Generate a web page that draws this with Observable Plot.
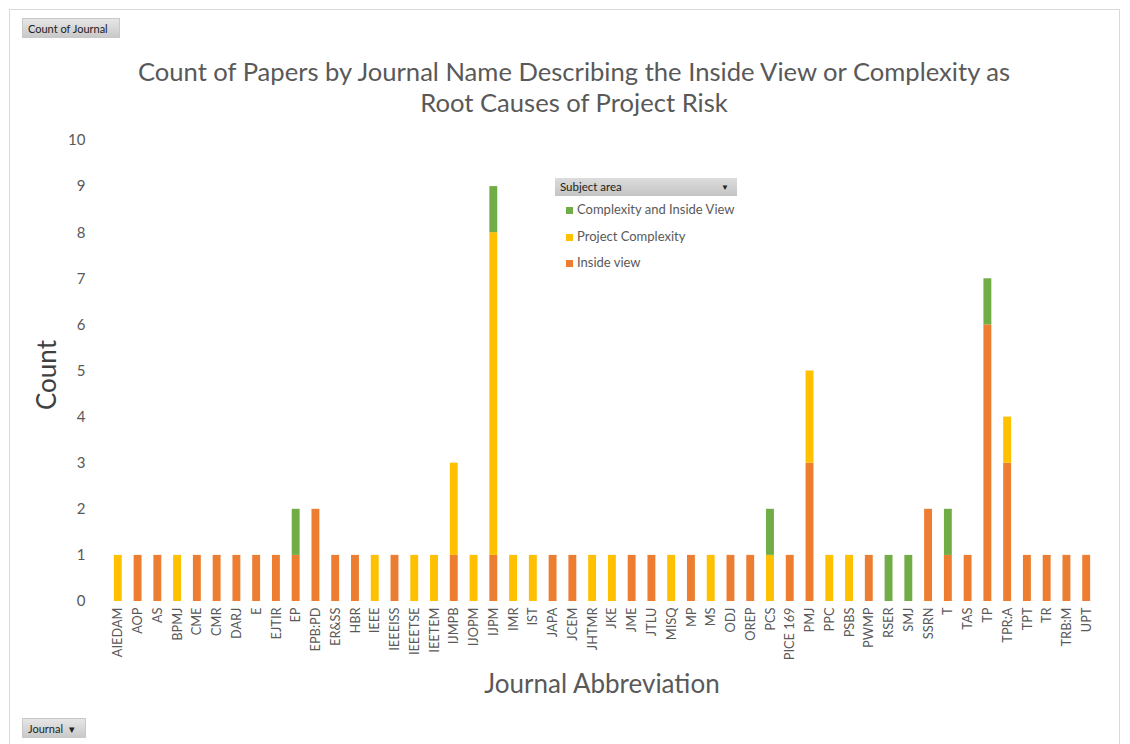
<!DOCTYPE html>
<html>
<head>
<meta charset="utf-8">
<script src="https://cdn.jsdelivr.net/npm/d3@7"></script>
<script src="https://cdn.jsdelivr.net/npm/@observablehq/plot@0.6"></script>
<style>
  html, body { margin: 0; padding: 0; background: #fff; }
  #wrap { position: relative; width: 1130px; height: 744px; overflow: hidden; font-family: Lato, "Open Sans", sans-serif; color: #595959; }
  #frame { position: absolute; left: 9px; top: 9px; width: 1111px; height: 760px; border: 1px solid #d9d9d9; box-sizing: border-box; }
  .btn { position: absolute; background: linear-gradient(#e6e6e6, #c9c9c9); border: 1px solid #c8c8c8; font-size: 11px; color: #222; padding: 0 5px; box-sizing: border-box; line-height: 19px; height: 20px; }
  #title { position: absolute; left: 0; width: 1148px; top: 56px; text-align: center; font-size: 25.6px; line-height: 31px; color: #595959; }
  #ylab { position: absolute; left: 46px; top: 375px; transform: translate(-50%, -50%) rotate(-90deg); font-size: 26px; color: #404040; white-space: nowrap; }
  #xlab { position: absolute; left: 602px; top: 683px; transform: translate(-50%, -50%); font-size: 26px; color: #595959; white-space: nowrap; }
  #legend { position: absolute; left: 555px; top: 178px; width: 182px; }
  #legend .hdr { height: 18px; background: linear-gradient(#dcdcdc, #c4c4c4); font-size: 11.5px; color: #222; line-height: 18px; padding-left: 5px; position: relative; }
  #legend .hdr span { position: absolute; right: 8px; top: 0; font-size: 8px; }
  #legend .item { font-size: 13px; height: 26.5px; line-height: 26px; padding-left: 11px; color: #595959; white-space: nowrap; }
  #legend .sw { display: inline-block; width: 7px; height: 7px; margin-right: 4px; }
  svg { position: absolute; left: 0; top: 0; }
</style>
</head>
<body>
<div id="wrap">
  <div id="frame"></div>
  <div id="chart"></div>
  <div class="btn" style="left:22px;top:18px;width:98px;">Count of Journal</div>
  <div id="title">Count of Papers by Journal Name Describing the Inside View or Complexity as<br>Root Causes of Project Risk</div>
  <div id="ylab">Count</div>
  <div id="xlab">Journal Abbreviation</div>
  <div id="legend"></div>
  <div class="btn" style="left:22px;top:718px;width:64px;">Journal &nbsp;&#9662;</div>
</div>
<script>
const journals = ["AIEDAM","AOP","AS","BPMJ","CME","CMR","DARJ","E","EJTIR","EP","EPB:PD","ER&SS","HBR","IEEE","IEEEISS","IEEETSE","IEETEM","IJMPB","IJOPM","IJPM","IMR","IST","JAPA","JCEM","JHTMR","JKE","JME","JTLU","MISQ","MP","MS","ODJ","OREP","PCS","PICE 169","PMJ","PPC","PSBS","PWMP","RSER","SMJ","SSRN","T","TAS","TP","TPR:A","TPT","TR","TRB:M","UPT"];
const insideView =        [0,1,1,0,1,1,1,1,1,1,2,1,1,0,1,0,0,1,0,1,0,0,1,1,0,0,1,1,0,1,0,1,1,0,1,3,0,0,1,0,0,2,1,1,6,3,1,1,1,1];
const projectComplexity = [1,0,0,1,0,0,0,0,0,0,0,0,0,1,0,1,1,2,1,7,1,1,0,0,1,1,0,0,1,0,1,0,0,1,0,2,1,1,0,0,0,0,0,0,0,1,0,0,0,0];
const complexityInside =  [0,0,0,0,0,0,0,0,0,1,0,0,0,0,0,0,0,0,0,1,0,0,0,0,0,0,0,0,0,0,0,0,0,1,0,0,0,0,0,1,1,0,1,0,1,0,0,0,0,0];
const series = ["Inside view","Project Complexity","Complexity and Inside View"];
const colors = ["#ED7D31","#FFC000","#70AD47"];
const yTicks = [0,1,2,3,4,5,6,7,8,9,10];

const rows = [];
journals.forEach((j, i) => {
  [insideView, projectComplexity, complexityInside].forEach((arr, k) => {
    if (arr[i] > 0) rows.push({journal: j, subject: series[k], count: arr[i]});
  });
});

const chart = Plot.plot({
  width: 1130,
  height: 744,
  marginTop: 140,
  marginBottom: 143,
  marginLeft: 102,
  marginRight: 28,
  style: {fontFamily: "Lato, 'Open Sans', sans-serif", color: "#595959", background: "transparent"},
  x: {domain: journals, padding: 0.6, label: null},
  y: {domain: [0, 10], label: null},
  color: {domain: series, range: colors},
  marks: [
    Plot.gridY(yTicks, {stroke: "#d4d4d4", strokeOpacity: 1, strokeWidth: 1, x1: 100, x2: 1102}),
    Plot.barY(rows, Plot.stackY({x: "journal", y: "count", fill: "subject", order: series})),
    Plot.axisY(yTicks, {tickSize: 0, tickPadding: 17, fontSize: 15, fill: "#595959", label: null}),
    Plot.axisX({tickSize: 0, tickRotate: -90, tickPadding: 6, fontSize: 12.8, fill: "#595959", label: null})
  ]
});
document.getElementById("chart").appendChild(chart);

const lg = document.getElementById("legend");
let html = '<div class="hdr">Subject area<span>&#9660;</span></div>';
[2,1,0].forEach(k => {
  html += `<div class="item"><span class="sw" style="background:${colors[k]}"></span>${series[k]}</div>`;
});
lg.innerHTML = html;
</script>
</body>
</html>
